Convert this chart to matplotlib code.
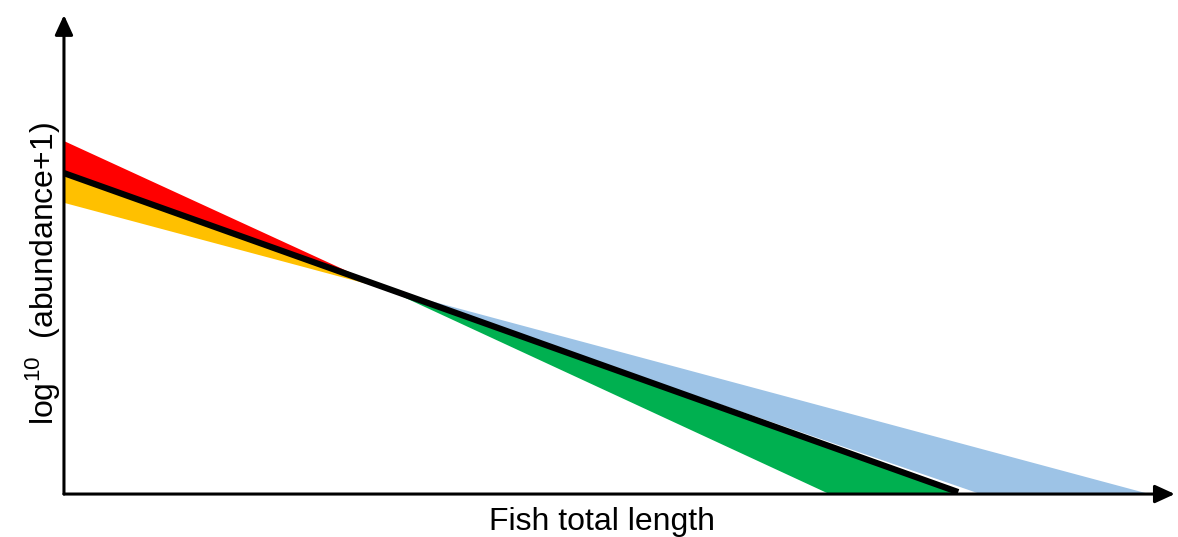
import matplotlib.pyplot as plt

plt.rcParams['font.family'] = ['Liberation Sans', 'DejaVu Sans']
plt.rcParams['mathtext.fontset'] = 'custom'
plt.rcParams['mathtext.rm'] = 'Liberation Sans'

# Fitted lines (arbitrary units, axes run 0..100)
pivot = (29.0, 42.8)
mean_line_x = [0, 80.5]
mean_line_y = [67.0, 0.4]
steep_start = (0, 73.7)      # red top / green bottom
steep_end = (68.9, 0)
shallow_start = (0, 60.8)    # orange bottom / blue top
shallow_end = (97.7, 0)
mean_end = (80.5, 0)
blue_low_end = (82.5, 0)

fig = plt.figure(figsize=(11.78, 5.37), dpi=100)
ax = fig.add_axes([0.0543, 0.080, 0.943, 0.892])
ax.set_xlim(0, 100)
ax.set_ylim(0, 100)

# red: above mean line, left of pivot
ax.fill([steep_start[0], pivot[0], 0], [steep_start[1], pivot[1], mean_line_y[0]],
        color='#ff0000', lw=0)
# orange: below mean line, left of pivot
ax.fill([0, pivot[0], shallow_start[0]], [mean_line_y[0], pivot[1], shallow_start[1]],
        color='#ffc000', lw=0)
# blue: above mean line, right of pivot
ax.fill([pivot[0], shallow_end[0], blue_low_end[0]], [pivot[1], shallow_end[1], blue_low_end[1]],
        color='#9dc3e6', lw=0)
# green: below mean line, right of pivot
ax.fill([pivot[0], mean_end[0], steep_end[0]], [pivot[1], mean_end[1], steep_end[1]],
        color='#00b050', lw=0)

ax.plot(mean_line_x, mean_line_y, color='black', lw=4.5, solid_capstyle='butt')

for s in ax.spines.values():
    s.set_visible(False)
ax.set_xticks([])
ax.set_yticks([])

arrow = dict(arrowstyle='-|>,head_length=1.2,head_width=0.55', lw=2.2, color='black',
             shrinkA=0, shrinkB=0)
ax.annotate('', xy=(100, 0), xytext=(0, 0), arrowprops=arrow, annotation_clip=False)
ax.annotate('', xy=(0, 100), xytext=(0, 0), arrowprops=arrow, annotation_clip=False)

fig.text(0.511, 0.0, 'Fish total length', fontsize=23, ha='center', va='bottom')
fig.text(0.036, 0.49, r'log$^{10}$  (abundance+1)', fontsize=23, rotation=90,
         ha='center', va='center')

fig.savefig('out.png', dpi=100)
